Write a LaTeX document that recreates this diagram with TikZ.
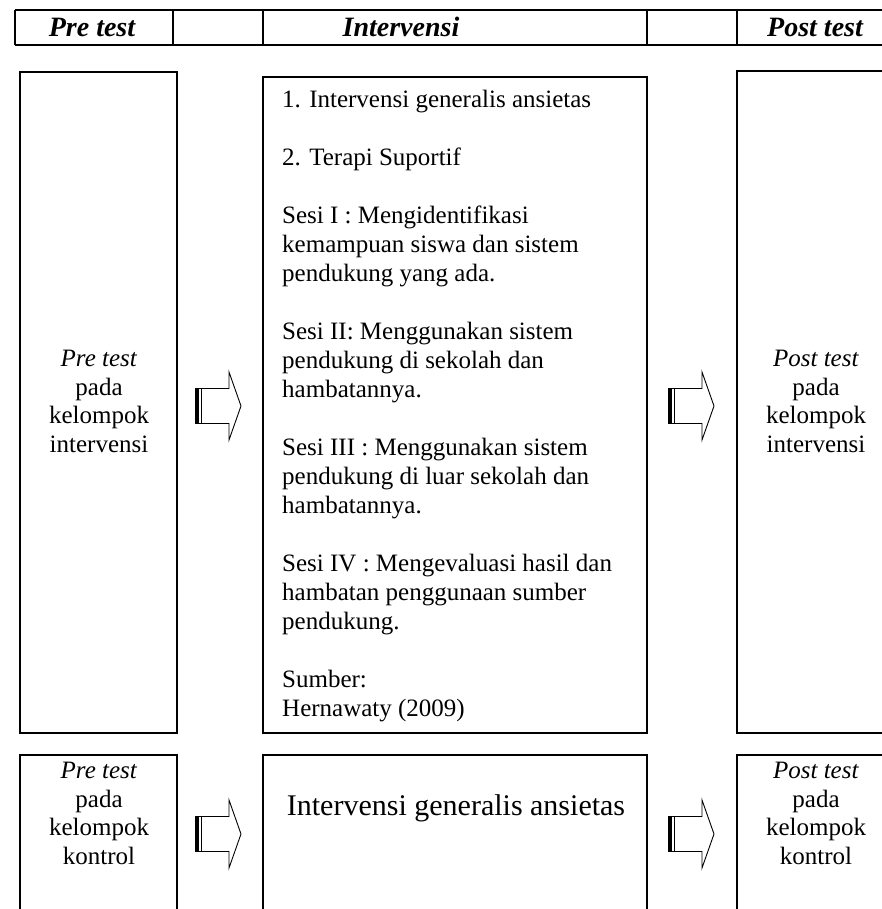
\documentclass[tikz,border=0pt]{standalone}
\usepackage{fontspec}
\setmainfont{Liberation Serif}
\begin{document}
\begin{tikzpicture}[x=1pt,y=-1pt,line join=miter]

    \tikzset{
        kotak/.style={line width=1.3pt},
        judul/.style={font=\fontsize{28}{30}\selectfont\bfseries\itshape, anchor=base, inner sep=0pt},
        teks/.style={font=\fontsize{25}{28.5}\selectfont, align=center, anchor=base, inner sep=0pt}
    }

    \useasboundingbox (0,0) rectangle (882,909);

    % Kepala tabel
    \draw[line width=2pt] (15,10) -- (882,10) (15,45) -- (882,45);
    \foreach \x in {15,173,263,647,737}{
        \draw[line width=1.5pt] (\x,10) -- (\x,45);
    }
    \node[judul] (hpre) at (92,37) {Pre test};
    \node[judul] (hint) at (401,37) {Intervensi};
    \node[judul] (hpost) at (815,37) {Post test};

    % Kotak baris atas
    \draw[kotak] (20,72) rectangle (177,733);
    \draw[kotak] (263,77) rectangle (647,733);
    \draw[kotak] (882,71) -- (737,71) -- (737,733) -- (882,733);

    % Kotak baris bawah
    \draw[kotak] (20,909) -- (20,755) -- (177,755) -- (177,909);
    \draw[kotak] (263,909) -- (263,755) -- (647,755) -- (647,909);
    \draw[kotak] (882,755) -- (737,755) -- (737,909);

    % Teks kelompok intervensi (base = baris terakhir)
    \node[teks] (preint) at (99,452)
        {\textit{Pre test}\\pada\\kelompok\\intervensi};
    \node[teks] (postint) at (816,452)
        {\textit{Post test}\\pada\\kelompok\\intervensi};

    % Isi intervensi
    \node[
        font=\fontsize{25}{29}\selectfont,
        align=left,
        anchor=base west,
        inner sep=0pt
    ] (isi) at (282,716) {%
        1. Intervensi generalis ansietas\\[29pt]
        2. Terapi Suportif\\[29pt]
        Sesi I : Mengidentifikasi\\
        kemampuan siswa dan sistem\\
        pendukung yang ada.\\[29pt]
        Sesi II: Menggunakan sistem\\
        pendukung di sekolah dan\\
        hambatannya.\\[29pt]
        Sesi III : Menggunakan sistem\\
        pendukung di luar sekolah dan\\
        hambatannya.\\[29pt]
        Sesi IV : Mengevaluasi hasil dan\\
        hambatan penggunaan sumber\\
        pendukung.\\[29pt]
        Sumber:\\
        Hernawaty (2009)};

    % Teks kelompok kontrol
    \node[teks] (prekon) at (99,864)
        {\textit{Pre test}\\pada\\kelompok\\kontrol};
    \node[teks] (postkon) at (816,864)
        {\textit{Post test}\\pada\\kelompok\\kontrol};
    \node[font=\fontsize{30}{32}\selectfont, anchor=base, inner sep=0pt]
        (intkon) at (456,815) {Intervensi generalis ansietas};

    % Panah blok
    \foreach \ax/\ay in {195/406, 668/406, 195/834, 668/834}{
        \draw[line width=0.9pt]
            (\ax,\ay-17.5) -- (\ax+34,\ay-17.5) -- (\ax+34,\ay-34)
            -- (\ax+46,\ay) -- (\ax+34,\ay+34) -- (\ax+34,\ay+17.5)
            -- (\ax,\ay+17.5);
        \fill (\ax,\ay-17.5) rectangle (\ax+4,\ay+17.5);
        \draw[line width=0.8pt] (\ax+6,\ay-17.5) -- (\ax+6,\ay+17.5);
    }

\end{tikzpicture}
\end{document}
